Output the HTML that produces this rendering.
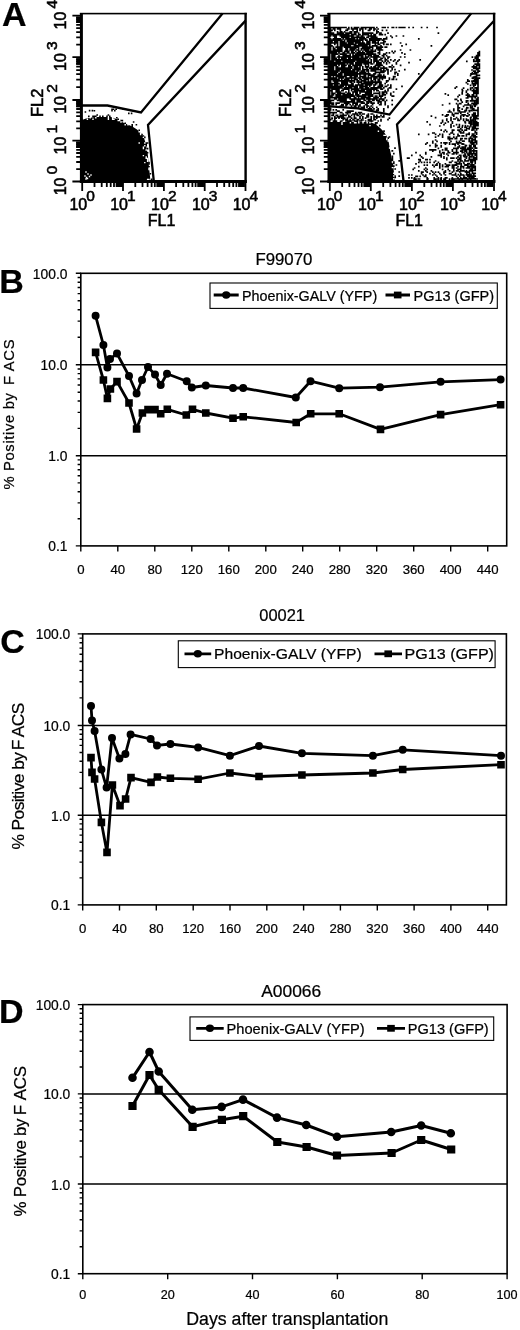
<!DOCTYPE html>
<html lang="en"><head><meta charset="utf-8"><title>Figure: FACS analysis and long-term marking</title>
<style>html,body{margin:0;padding:0;background:#fff}body{width:520px;height:1330px;overflow:hidden}svg{display:block}text{font-family:'Liberation Sans', Arial, Helvetica, sans-serif;fill:#000;stroke:#000;stroke-width:.22px}.b{stroke-width:.55px}</style></head><body>
<svg width="520" height="1330" viewBox="0 0 520 1330">
<rect width="520" height="1330" fill="#fff"/>
<text x="1.9" y="25.8" font-size="34" font-weight="bold">A</text>
<clipPath id="cA1"><rect x="82" y="14" width="162.5" height="167"/></clipPath><g clip-path="url(#cA1)"><path d="M81 120.5L86 118.5L95 117L111 117L118 119.5L123 122.5L132.3 126.5L137 129.5L141.5 133.8L144 138L145.6 143L147.7 153.8L149.2 169L150.6 182L81 182Z" fill="#000"/><path d="M81.8 119.2h0M88.8 116.4h0M93 116.4h0M94.4 110.8h0M94.4 116.4h0M95.8 116.4h0M97.2 115h0M100 116.4h0M102.8 116.4h0M107 116.4h0M108.4 115h0M109.8 116.4h0M116.8 117.8h0M118.2 119.2h0M121 120.6h0M122.4 120.6h0M125.2 123.4h0M132.2 124.8h0M132.2 126.2h0M133.6 122h0M136.4 124.8h0M139.2 130.4h0M142 134.6h0M143.4 136h0M144.8 137.4h0M146.2 143h0M146.2 144.4h0M146.2 145.8h0M146.2 182.2h0M147.6 143h0M147.6 148.6h0M147.6 152.8h0M149 162.6h0M149 164h0M149 166.8h0M150.4 173.8h0M150.4 182.2h0M151.8 179.4h0M151.8 180.8h0M112 110.6h0M85.4 112h0M114.8 110.6h0M131.6 113.4h0M112 109.2h0M113.4 109.2h0M92.4 110.6h0M89.6 110.6h0M116.2 109.2h0M123.2 109.2h0M128.8 113.4h0M116.2 109.2h0" stroke="#000" stroke-width="1.6" stroke-linecap="square" fill="none"/><path d="M87.4 119.2h0M90.2 117.8h0M93 119.2h0M95.8 117.8h0M108.4 117.8h0M108.4 119.2h0M112.6 117.8h0M112.6 119.2h0M114 119.2h0M118.2 120.6h0M119.6 120.6h0M121 122h0M125.2 124.8h0M128 124.8h0M139.2 131.8h0M139.2 143h0M140.6 133.2h0M140.6 134.6h0M143.4 137.4h0M143.4 147.2h0M143.4 148.6h0M143.4 155.6h0M144.8 143h0M144.8 145.8h0M144.8 162.6h0M146.2 150h0M146.2 157h0M146.2 158.4h0M147.6 158.4h0M147.6 159.8h0M147.6 161.2h0M147.6 179.4h0M149 168.2h0M149 169.6h0M149 179.4h0M149 180.8h0M150.4 180.8h0M85 176h0M86.5 177.5h0M88 174h0M89.5 176.5h0M86 172h0M91 175h0M87.5 178.5h0M86 179h0" stroke="#fff" stroke-width="1.4" stroke-linecap="square" fill="none"/></g><path d="M82 105.5H107.5L141 112.5L222.5 13.4M153.8 181L148 125L245.6 20.6" stroke="#000" stroke-width="2.3" fill="none" stroke-linejoin="miter"/>
<g transform="translate(0,0)"><rect x="79.9" y="13" width="3" height="170" fill="#000"/><rect x="79.9" y="180" width="166.9" height="3" fill="#000"/><rect x="79.9" y="12.8" width="166.9" height="1.6" fill="#000"/><rect x="244.4" y="12.8" width="2.4" height="170" fill="#000"/><path d="M72.4 15.7H81M72.4 57.2H81M72.4 100H81M72.4 140.7H81M72.4 181.5H81M76.2 44.7H81M76.2 37.4H81M76.2 32.2H81M76.2 28.2H81M76.2 24.9H81M76.2 22.1H81M76.2 19.7H81M76.2 17.6H81M76.2 87.1H81M76.2 79.6H81M76.2 74.2H81M76.2 70.1H81M76.2 66.7H81M76.2 63.8H81M76.2 61.3H81M76.2 59.2H81M76.2 128.4H81M76.2 121.3H81M76.2 116.2H81M76.2 112.3H81M76.2 109H81M76.2 106.3H81M76.2 103.9H81M76.2 101.9H81M76.2 169.2H81M76.2 162H81M76.2 156.9H81M76.2 153H81M76.2 149.8H81M76.2 147H81M76.2 144.7H81M76.2 142.6H81M82.2 182V191M123 182V191M163.9 182V191M204.7 182V191M245.5 182V191M94.5 182V187M101.7 182V187M106.8 182V187M110.7 182V187M114 182V187M116.7 182V187M119.1 182V187M121.2 182V187M135.3 182V187M142.5 182V187M147.6 182V187M151.6 182V187M154.8 182V187M157.5 182V187M159.9 182V187M162 182V187M176.1 182V187M183.3 182V187M188.4 182V187M192.4 182V187M195.6 182V187M198.4 182V187M200.7 182V187M202.8 182V187M217 182V187M224.2 182V187M229.3 182V187M233.2 182V187M236.4 182V187M239.2 182V187M241.5 182V187M243.6 182V187" stroke="#000" stroke-width="1.8" fill="none"/><rect x="76.2" y="16.7" width="4.8" height="6.3" fill="#000"/><rect x="115.8" y="182" width="6.3" height="5" fill="#000"/><rect x="76.2" y="58.3" width="4.8" height="6.5" fill="#000"/><rect x="156.6" y="182" width="6.3" height="5" fill="#000"/><rect x="76.2" y="101" width="4.8" height="6.2" fill="#000"/><rect x="197.5" y="182" width="6.3" height="5" fill="#000"/><rect x="76.2" y="141.7" width="4.8" height="6.3" fill="#000"/><rect x="238.3" y="182" width="6.3" height="5" fill="#000"/><text x="69.4" y="210" font-size="16" class="b">10<tspan dx="-1" dy="-9.4" font-size="15.5">0</tspan></text><text x="110.2" y="210" font-size="16" class="b">10<tspan dx="-1" dy="-9.4" font-size="15.5">1</tspan></text><text x="151.1" y="210" font-size="16" class="b">10<tspan dx="-1" dy="-9.4" font-size="15.5">2</tspan></text><text x="191.9" y="210" font-size="16" class="b">10<tspan dx="-1" dy="-9.4" font-size="15.5">3</tspan></text><text x="232.7" y="210" font-size="16" class="b">10<tspan dx="-1" dy="-9.4" font-size="15.5">4</tspan></text><text transform="translate(66.2,29.5) rotate(-90)" font-size="16" class="b">10<tspan dx="3.2" dy="-9" font-size="15.5">4</tspan></text><text transform="translate(66.2,71) rotate(-90)" font-size="16" class="b">10<tspan dx="3.2" dy="-9" font-size="15.5">3</tspan></text><text transform="translate(66.2,113.8) rotate(-90)" font-size="16" class="b">10<tspan dx="3.2" dy="-9" font-size="15.5">2</tspan></text><text transform="translate(66.2,154.5) rotate(-90)" font-size="16" class="b">10<tspan dx="3.2" dy="-9" font-size="15.5">1</tspan></text><text transform="translate(66.2,195.3) rotate(-90)" font-size="16" class="b">10<tspan dx="3.2" dy="-9" font-size="15.5">0</tspan></text><text transform="translate(43,117) rotate(-90)" font-size="16.5" class="b">FL2</text><text x="147.8" y="226.2" font-size="16" class="b">FL1</text></g>
<clipPath id="cA2"><rect x="329.6" y="14" width="163.5" height="167"/></clipPath><g clip-path="url(#cA2)"><path d="M328.6 122L369.5 122L375.2 124L379.9 127.8L384 132L386.6 136L388.7 142L389.9 149L393.2 165.4L395 182L328.6 182Z" fill="#000"/><path d="M328 120h0M332.2 118.6h0M333.6 121.4h0M335 121.4h0M336.4 121.4h0M340.6 121.4h0M344.8 118.6h0M347.6 121.4h0M349 121.4h0M350.4 121.4h0M354.6 120h0M356 121.4h0M357.4 121.4h0M363 120h0M371.4 121.4h0M375.6 122.8h0M375.6 124.2h0M377 122.8h0M379.8 125.6h0M384 131.2h0M388.2 138.2h0M392.4 150.8h0M392.4 156.4h0M392.4 157.8h0M392.4 159.2h0M392.4 160.6h0M393.8 153.6h0M393.8 162h0M393.8 163.4h0M393.8 166.2h0M395.2 169h0M395.2 177.4h0M396.6 181.6h0M398 181.6h0M330.6 108.4h0M330.6 109.8h0M330.6 112.6h0M330.6 119.6h0M332 112.6h0M332 115.4h0M332 118.2h0M333.4 109.8h0M333.4 112.6h0M333.4 114h0M333.4 115.4h0M333.4 121h0M334.8 112.6h0M334.8 116.8h0M334.8 118.2h0M334.8 119.6h0M334.8 121h0M336.2 109.8h0M336.2 112.6h0M336.2 115.4h0M336.2 118.2h0M336.2 121h0M337.6 111.2h0M337.6 115.4h0M337.6 116.8h0M339 111.2h0M339 116.8h0M339 118.2h0M340.4 112.6h0M340.4 115.4h0M340.4 116.8h0M341.8 112.6h0M341.8 115.4h0M341.8 116.8h0M341.8 118.2h0M341.8 121h0M343.2 109.8h0M343.2 114h0M343.2 115.4h0M343.2 116.8h0M343.2 118.2h0M343.2 119.6h0M344.6 115.4h0M344.6 118.2h0M346 112.6h0M346 115.4h0M346 119.6h0M346 121h0M347.4 111.2h0M347.4 112.6h0M347.4 114h0M347.4 118.2h0M347.4 119.6h0M348.8 111.2h0M348.8 112.6h0M348.8 115.4h0M348.8 116.8h0M348.8 121h0M350.2 111.2h0M350.2 112.6h0M350.2 116.8h0M350.2 119.6h0M350.2 121h0M351.6 111.2h0M351.6 115.4h0M351.6 118.2h0M351.6 121h0M353 111.2h0M353 114h0M353 119.6h0M354.4 114h0M354.4 115.4h0M354.4 116.8h0M354.4 118.2h0M354.4 121h0M355.8 112.6h0M355.8 114h0M355.8 118.2h0M357.2 114h0M357.2 115.4h0M357.2 119.6h0M358.6 112.6h0M358.6 115.4h0M358.6 119.6h0M360 112.6h0M360 114h0M360 116.8h0M360 118.2h0M360 121h0M361.4 112.6h0M361.4 115.4h0M361.4 119.6h0M361.4 121h0M362.8 114h0M362.8 116.8h0M362.8 118.2h0M364.2 114h0M365.6 118.2h0M365.6 121h0M367 115.4h0M367 116.8h0M368.4 114h0M368.4 115.4h0M368.4 116.8h0M368.4 119.6h0M368.4 121h0M369.8 119.6h0M369.8 121h0M371.2 114h0M371.2 116.8h0M371.2 118.2h0M371.2 119.6h0M372.6 114h0M372.6 121h0M374 115.4h0M374 116.8h0M374 118.2h0M374 119.6h0M375.4 116.8h0M375.4 119.6h0M376.8 115.4h0M376.8 116.8h0M376.8 118.2h0M378.2 116.8h0M378.2 121h0M379.6 116.8h0M381 115.4h0M381 119.6h0M381 121h0M382.4 116.8h0M383.8 115.4h0M383.8 116.8h0M388 119.6h0M389.4 118.2h0M388 155.2h0M388 174.8h0M389.4 137h0M389.4 166.4h0M390.8 160.8h0M390.8 176.2h0M392.2 151h0M392.2 166.4h0M395 148.2h0M395 176.2h0M396.4 165h0M399.2 160.8h0M399.2 172h0M399.2 176.2h0M330.6 29h0M330.6 30.4h0M330.6 31.8h0M330.6 33.2h0M330.6 34.6h0M330.6 36h0M330.6 38.8h0M330.6 40.2h0M330.6 41.6h0M330.6 43h0M330.6 44.4h0M330.6 45.8h0M330.6 47.2h0M330.6 48.6h0M330.6 50h0M330.6 51.4h0M330.6 52.8h0M330.6 61.2h0M330.6 62.6h0M330.6 64h0M330.6 65.4h0M330.6 66.8h0M330.6 68.2h0M330.6 69.6h0M330.6 71h0M330.6 72.4h0M330.6 73.8h0M330.6 75.2h0M330.6 76.6h0M330.6 78h0M330.6 79.4h0M330.6 80.8h0M330.6 82.2h0M330.6 83.6h0M330.6 85h0M330.6 86.4h0M330.6 87.8h0M330.6 90.6h0M330.6 96.2h0M330.6 97.6h0M330.6 100.4h0M330.6 101.8h0M330.6 103.2h0M332 30.4h0M332 33.2h0M332 34.6h0M332 40.2h0M332 41.6h0M332 43h0M332 45.8h0M332 51.4h0M332 52.8h0M332 54.2h0M332 55.6h0M332 57h0M332 58.4h0M332 59.8h0M332 61.2h0M332 62.6h0M332 64h0M332 65.4h0M332 66.8h0M332 68.2h0M332 69.6h0M332 71h0M332 72.4h0M332 73.8h0M332 75.2h0M332 78h0M332 79.4h0M332 83.6h0M332 85h0M332 86.4h0M332 87.8h0M332 89.2h0M332 90.6h0M332 92h0M332 93.4h0M332 94.8h0M332 96.2h0M332 97.6h0M332 100.4h0M332 103.2h0M332 104.6h0M333.4 29h0M333.4 33.2h0M333.4 34.6h0M333.4 36h0M333.4 38.8h0M333.4 40.2h0M333.4 43h0M333.4 47.2h0M333.4 48.6h0M333.4 50h0M333.4 51.4h0M333.4 52.8h0M333.4 54.2h0M333.4 55.6h0M333.4 57h0M333.4 58.4h0M333.4 59.8h0M333.4 61.2h0M333.4 62.6h0M333.4 64h0M333.4 65.4h0M333.4 66.8h0M333.4 68.2h0M333.4 69.6h0M333.4 71h0M333.4 72.4h0M333.4 73.8h0M333.4 75.2h0M333.4 76.6h0M333.4 78h0M333.4 79.4h0M333.4 80.8h0M333.4 83.6h0M333.4 86.4h0M333.4 87.8h0M333.4 89.2h0M333.4 93.4h0M333.4 94.8h0M333.4 97.6h0M333.4 100.4h0M333.4 103.2h0M333.4 104.6h0M334.8 29h0M334.8 30.4h0M334.8 34.6h0M334.8 36h0M334.8 37.4h0M334.8 38.8h0M334.8 40.2h0M334.8 41.6h0M334.8 43h0M334.8 44.4h0M334.8 48.6h0M334.8 50h0M334.8 51.4h0M334.8 52.8h0M334.8 54.2h0M334.8 55.6h0M334.8 57h0M334.8 58.4h0M334.8 59.8h0M334.8 62.6h0M334.8 64h0M334.8 65.4h0M334.8 71h0M334.8 72.4h0M334.8 73.8h0M334.8 75.2h0M334.8 78h0M334.8 79.4h0M334.8 80.8h0M334.8 82.2h0M334.8 83.6h0M334.8 85h0M334.8 86.4h0M334.8 87.8h0M334.8 89.2h0M334.8 93.4h0M334.8 97.6h0M334.8 99h0M336.2 34.6h0M336.2 36h0M336.2 37.4h0M336.2 38.8h0M336.2 40.2h0M336.2 41.6h0M336.2 43h0M336.2 47.2h0M336.2 50h0M336.2 51.4h0M336.2 52.8h0M336.2 54.2h0M336.2 58.4h0M336.2 59.8h0M336.2 61.2h0M336.2 62.6h0M336.2 64h0M336.2 65.4h0M336.2 66.8h0M336.2 68.2h0M336.2 69.6h0M336.2 71h0M336.2 72.4h0M336.2 73.8h0M336.2 75.2h0M336.2 76.6h0M336.2 78h0M336.2 79.4h0M336.2 80.8h0M336.2 82.2h0M336.2 83.6h0M336.2 85h0M336.2 86.4h0M336.2 87.8h0M336.2 89.2h0M336.2 90.6h0M336.2 92h0M336.2 94.8h0M336.2 96.2h0M336.2 97.6h0M336.2 99h0M336.2 103.2h0M336.2 104.6h0M337.6 29h0M337.6 31.8h0M337.6 33.2h0M337.6 34.6h0M337.6 38.8h0M337.6 40.2h0M337.6 41.6h0M337.6 43h0M337.6 44.4h0M337.6 45.8h0M337.6 47.2h0M337.6 48.6h0M337.6 50h0M337.6 51.4h0M337.6 54.2h0M337.6 57h0M337.6 59.8h0M337.6 61.2h0M337.6 62.6h0M337.6 64h0M337.6 66.8h0M337.6 68.2h0M337.6 69.6h0M337.6 71h0M337.6 72.4h0M337.6 75.2h0M337.6 76.6h0M337.6 79.4h0M337.6 80.8h0M337.6 82.2h0M337.6 83.6h0M337.6 85h0M337.6 86.4h0M337.6 87.8h0M337.6 89.2h0M337.6 90.6h0M337.6 92h0M337.6 93.4h0M337.6 94.8h0M337.6 96.2h0M337.6 97.6h0M337.6 100.4h0M337.6 103.2h0M339 29h0M339 33.2h0M339 34.6h0M339 38.8h0M339 40.2h0M339 47.2h0M339 48.6h0M339 50h0M339 51.4h0M339 52.8h0M339 55.6h0M339 57h0M339 58.4h0M339 59.8h0M339 61.2h0M339 62.6h0M339 64h0M339 65.4h0M339 68.2h0M339 69.6h0M339 71h0M339 73.8h0M339 75.2h0M339 76.6h0M339 78h0M339 79.4h0M339 80.8h0M339 83.6h0M339 86.4h0M339 87.8h0M339 89.2h0M339 90.6h0M339 92h0M339 93.4h0M339 94.8h0M339 96.2h0M339 97.6h0M339 99h0M339 100.4h0M339 103.2h0M340.4 29h0M340.4 30.4h0M340.4 31.8h0M340.4 33.2h0M340.4 34.6h0M340.4 36h0M340.4 38.8h0M340.4 40.2h0M340.4 41.6h0M340.4 43h0M340.4 44.4h0M340.4 45.8h0M340.4 47.2h0M340.4 48.6h0M340.4 50h0M340.4 51.4h0M340.4 54.2h0M340.4 57h0M340.4 59.8h0M340.4 61.2h0M340.4 62.6h0M340.4 64h0M340.4 68.2h0M340.4 69.6h0M340.4 72.4h0M340.4 73.8h0M340.4 75.2h0M340.4 76.6h0M340.4 78h0M340.4 80.8h0M340.4 85h0M340.4 86.4h0M340.4 87.8h0M340.4 92h0M340.4 93.4h0M340.4 94.8h0M340.4 96.2h0M340.4 97.6h0M340.4 99h0M340.4 100.4h0M340.4 101.8h0M340.4 106h0M341.8 31.8h0M341.8 33.2h0M341.8 34.6h0M341.8 36h0M341.8 37.4h0M341.8 40.2h0M341.8 41.6h0M341.8 43h0M341.8 44.4h0M341.8 45.8h0M341.8 47.2h0M341.8 48.6h0M341.8 50h0M341.8 51.4h0M341.8 54.2h0M341.8 57h0M341.8 58.4h0M341.8 59.8h0M341.8 62.6h0M341.8 64h0M341.8 65.4h0M341.8 66.8h0M341.8 68.2h0M341.8 69.6h0M341.8 71h0M341.8 72.4h0M341.8 73.8h0M341.8 75.2h0M341.8 76.6h0M341.8 78h0M341.8 79.4h0M341.8 80.8h0M341.8 82.2h0M341.8 83.6h0M341.8 85h0M341.8 86.4h0M341.8 87.8h0M341.8 90.6h0M341.8 93.4h0M341.8 96.2h0M341.8 97.6h0M341.8 99h0M341.8 100.4h0M341.8 101.8h0M341.8 104.6h0M341.8 106h0M343.2 33.2h0M343.2 34.6h0M343.2 36h0M343.2 37.4h0M343.2 38.8h0M343.2 41.6h0M343.2 43h0M343.2 44.4h0M343.2 45.8h0M343.2 52.8h0M343.2 54.2h0M343.2 55.6h0M343.2 57h0M343.2 58.4h0M343.2 59.8h0M343.2 61.2h0M343.2 62.6h0M343.2 64h0M343.2 65.4h0M343.2 66.8h0M343.2 68.2h0M343.2 69.6h0M343.2 71h0M343.2 72.4h0M343.2 76.6h0M343.2 78h0M343.2 80.8h0M343.2 82.2h0M343.2 83.6h0M343.2 85h0M343.2 86.4h0M343.2 89.2h0M343.2 90.6h0M343.2 93.4h0M343.2 94.8h0M343.2 96.2h0M343.2 97.6h0M343.2 99h0M343.2 100.4h0M343.2 101.8h0M343.2 104.6h0M343.2 106h0M344.6 31.8h0M344.6 34.6h0M344.6 36h0M344.6 37.4h0M344.6 40.2h0M344.6 41.6h0M344.6 43h0M344.6 44.4h0M344.6 45.8h0M344.6 47.2h0M344.6 51.4h0M344.6 52.8h0M344.6 54.2h0M344.6 55.6h0M344.6 57h0M344.6 58.4h0M344.6 59.8h0M344.6 61.2h0M344.6 62.6h0M344.6 64h0M344.6 65.4h0M344.6 66.8h0M344.6 68.2h0M344.6 69.6h0M344.6 71h0M344.6 72.4h0M344.6 73.8h0M344.6 75.2h0M344.6 76.6h0M344.6 79.4h0M344.6 80.8h0M344.6 82.2h0M344.6 83.6h0M344.6 85h0M344.6 87.8h0M344.6 89.2h0M344.6 93.4h0M344.6 94.8h0M344.6 96.2h0M344.6 97.6h0M344.6 99h0M344.6 100.4h0M344.6 101.8h0M344.6 103.2h0M346 30.4h0M346 33.2h0M346 34.6h0M346 36h0M346 37.4h0M346 38.8h0M346 43h0M346 44.4h0M346 45.8h0M346 47.2h0M346 48.6h0M346 50h0M346 51.4h0M346 54.2h0M346 55.6h0M346 57h0M346 58.4h0M346 59.8h0M346 61.2h0M346 62.6h0M346 65.4h0M346 68.2h0M346 69.6h0M346 71h0M346 72.4h0M346 73.8h0M346 75.2h0M346 76.6h0M346 78h0M346 79.4h0M346 80.8h0M346 82.2h0M346 83.6h0M346 85h0M346 86.4h0M346 87.8h0M346 89.2h0M346 92h0M346 94.8h0M346 96.2h0M346 97.6h0M346 99h0M346 100.4h0M346 101.8h0M346 103.2h0M346 104.6h0M346 106h0M347.4 29h0M347.4 30.4h0M347.4 33.2h0M347.4 34.6h0M347.4 36h0M347.4 37.4h0M347.4 38.8h0M347.4 40.2h0M347.4 41.6h0M347.4 44.4h0M347.4 45.8h0M347.4 47.2h0M347.4 48.6h0M347.4 50h0M347.4 51.4h0M347.4 52.8h0M347.4 55.6h0M347.4 57h0M347.4 59.8h0M347.4 61.2h0M347.4 62.6h0M347.4 64h0M347.4 68.2h0M347.4 69.6h0M347.4 71h0M347.4 72.4h0M347.4 73.8h0M347.4 75.2h0M347.4 78h0M347.4 79.4h0M347.4 80.8h0M347.4 82.2h0M347.4 83.6h0M347.4 85h0M347.4 87.8h0M347.4 89.2h0M347.4 93.4h0M347.4 94.8h0M347.4 96.2h0M347.4 97.6h0M347.4 101.8h0M347.4 103.2h0M347.4 104.6h0M348.8 29h0M348.8 33.2h0M348.8 34.6h0M348.8 36h0M348.8 37.4h0M348.8 38.8h0M348.8 40.2h0M348.8 41.6h0M348.8 43h0M348.8 44.4h0M348.8 45.8h0M348.8 47.2h0M348.8 51.4h0M348.8 52.8h0M348.8 55.6h0M348.8 57h0M348.8 58.4h0M348.8 59.8h0M348.8 61.2h0M348.8 62.6h0M348.8 65.4h0M348.8 66.8h0M348.8 68.2h0M348.8 69.6h0M348.8 71h0M348.8 72.4h0M348.8 73.8h0M348.8 75.2h0M348.8 78h0M348.8 79.4h0M348.8 80.8h0M348.8 85h0M348.8 86.4h0M348.8 87.8h0M348.8 89.2h0M348.8 90.6h0M348.8 92h0M348.8 93.4h0M348.8 94.8h0M348.8 96.2h0M348.8 97.6h0M348.8 101.8h0M348.8 103.2h0M350.2 31.8h0M350.2 33.2h0M350.2 36h0M350.2 38.8h0M350.2 40.2h0M350.2 41.6h0M350.2 43h0M350.2 44.4h0M350.2 45.8h0M350.2 47.2h0M350.2 48.6h0M350.2 50h0M350.2 54.2h0M350.2 55.6h0M350.2 57h0M350.2 58.4h0M350.2 59.8h0M350.2 61.2h0M350.2 62.6h0M350.2 64h0M350.2 65.4h0M350.2 66.8h0M350.2 68.2h0M350.2 69.6h0M350.2 71h0M350.2 72.4h0M350.2 73.8h0M350.2 75.2h0M350.2 76.6h0M350.2 78h0M350.2 80.8h0M350.2 82.2h0M350.2 85h0M350.2 86.4h0M350.2 87.8h0M350.2 93.4h0M350.2 94.8h0M350.2 96.2h0M350.2 97.6h0M350.2 99h0M350.2 101.8h0M350.2 104.6h0M351.6 29h0M351.6 31.8h0M351.6 33.2h0M351.6 34.6h0M351.6 36h0M351.6 37.4h0M351.6 38.8h0M351.6 40.2h0M351.6 41.6h0M351.6 43h0M351.6 44.4h0M351.6 47.2h0M351.6 48.6h0M351.6 50h0M351.6 51.4h0M351.6 52.8h0M351.6 57h0M351.6 59.8h0M351.6 61.2h0M351.6 62.6h0M351.6 64h0M351.6 66.8h0M351.6 68.2h0M351.6 71h0M351.6 72.4h0M351.6 73.8h0M351.6 75.2h0M351.6 76.6h0M351.6 78h0M351.6 79.4h0M351.6 80.8h0M351.6 82.2h0M351.6 83.6h0M351.6 85h0M351.6 86.4h0M351.6 87.8h0M351.6 89.2h0M351.6 90.6h0M351.6 94.8h0M351.6 96.2h0M351.6 99h0M351.6 100.4h0M351.6 101.8h0M351.6 106h0M351.6 107.4h0M353 29h0M353 30.4h0M353 34.6h0M353 36h0M353 37.4h0M353 38.8h0M353 40.2h0M353 41.6h0M353 43h0M353 44.4h0M353 47.2h0M353 48.6h0M353 50h0M353 51.4h0M353 52.8h0M353 54.2h0M353 55.6h0M353 57h0M353 58.4h0M353 59.8h0M353 61.2h0M353 62.6h0M353 64h0M353 65.4h0M353 69.6h0M353 71h0M353 72.4h0M353 73.8h0M353 75.2h0M353 78h0M353 80.8h0M353 83.6h0M353 85h0M353 86.4h0M353 89.2h0M353 92h0M353 93.4h0M353 94.8h0M353 96.2h0M353 99h0M353 100.4h0M353 101.8h0M353 103.2h0M353 104.6h0M354.4 29h0M354.4 31.8h0M354.4 33.2h0M354.4 34.6h0M354.4 37.4h0M354.4 38.8h0M354.4 40.2h0M354.4 41.6h0M354.4 44.4h0M354.4 45.8h0M354.4 47.2h0M354.4 48.6h0M354.4 50h0M354.4 52.8h0M354.4 55.6h0M354.4 57h0M354.4 58.4h0M354.4 59.8h0M354.4 61.2h0M354.4 65.4h0M354.4 66.8h0M354.4 68.2h0M354.4 69.6h0M354.4 71h0M354.4 72.4h0M354.4 73.8h0M354.4 75.2h0M354.4 76.6h0M354.4 78h0M354.4 79.4h0M354.4 80.8h0M354.4 82.2h0M354.4 86.4h0M354.4 87.8h0M354.4 89.2h0M354.4 90.6h0M354.4 92h0M354.4 96.2h0M354.4 97.6h0M354.4 99h0M354.4 100.4h0M354.4 101.8h0M354.4 103.2h0M354.4 106h0M354.4 107.4h0M355.8 29h0M355.8 31.8h0M355.8 33.2h0M355.8 34.6h0M355.8 37.4h0M355.8 40.2h0M355.8 41.6h0M355.8 43h0M355.8 44.4h0M355.8 45.8h0M355.8 47.2h0M355.8 48.6h0M355.8 51.4h0M355.8 54.2h0M355.8 55.6h0M355.8 57h0M355.8 58.4h0M355.8 59.8h0M355.8 62.6h0M355.8 64h0M355.8 65.4h0M355.8 66.8h0M355.8 68.2h0M355.8 69.6h0M355.8 72.4h0M355.8 73.8h0M355.8 75.2h0M355.8 76.6h0M355.8 78h0M355.8 79.4h0M355.8 85h0M355.8 86.4h0M355.8 87.8h0M355.8 89.2h0M355.8 90.6h0M355.8 92h0M355.8 93.4h0M355.8 94.8h0M355.8 97.6h0M355.8 99h0M355.8 103.2h0M355.8 104.6h0M355.8 106h0M355.8 107.4h0M357.2 29h0M357.2 30.4h0M357.2 31.8h0M357.2 36h0M357.2 37.4h0M357.2 38.8h0M357.2 40.2h0M357.2 41.6h0M357.2 43h0M357.2 45.8h0M357.2 47.2h0M357.2 50h0M357.2 52.8h0M357.2 54.2h0M357.2 55.6h0M357.2 57h0M357.2 58.4h0M357.2 59.8h0M357.2 61.2h0M357.2 62.6h0M357.2 64h0M357.2 65.4h0M357.2 66.8h0M357.2 68.2h0M357.2 69.6h0M357.2 71h0M357.2 72.4h0M357.2 73.8h0M357.2 75.2h0M357.2 76.6h0M357.2 79.4h0M357.2 80.8h0M357.2 82.2h0M357.2 85h0M357.2 86.4h0M357.2 87.8h0M357.2 89.2h0M357.2 90.6h0M357.2 92h0M357.2 93.4h0M357.2 94.8h0M357.2 96.2h0M357.2 99h0M357.2 100.4h0M357.2 101.8h0M357.2 103.2h0M357.2 104.6h0M358.6 33.2h0M358.6 34.6h0M358.6 36h0M358.6 37.4h0M358.6 40.2h0M358.6 41.6h0M358.6 43h0M358.6 44.4h0M358.6 45.8h0M358.6 47.2h0M358.6 48.6h0M358.6 50h0M358.6 51.4h0M358.6 52.8h0M358.6 54.2h0M358.6 55.6h0M358.6 57h0M358.6 58.4h0M358.6 59.8h0M358.6 61.2h0M358.6 62.6h0M358.6 64h0M358.6 65.4h0M358.6 68.2h0M358.6 69.6h0M358.6 71h0M358.6 73.8h0M358.6 78h0M358.6 80.8h0M358.6 82.2h0M358.6 83.6h0M358.6 85h0M358.6 89.2h0M358.6 90.6h0M358.6 94.8h0M358.6 96.2h0M358.6 97.6h0M358.6 99h0M358.6 100.4h0M358.6 101.8h0M358.6 106h0M358.6 107.4h0M360 29h0M360 30.4h0M360 34.6h0M360 37.4h0M360 38.8h0M360 40.2h0M360 41.6h0M360 43h0M360 44.4h0M360 45.8h0M360 51.4h0M360 52.8h0M360 54.2h0M360 55.6h0M360 58.4h0M360 59.8h0M360 61.2h0M360 62.6h0M360 64h0M360 65.4h0M360 66.8h0M360 68.2h0M360 69.6h0M360 72.4h0M360 73.8h0M360 75.2h0M360 76.6h0M360 78h0M360 79.4h0M360 82.2h0M360 85h0M360 86.4h0M360 87.8h0M360 90.6h0M360 92h0M360 93.4h0M360 96.2h0M360 99h0M360 100.4h0M360 101.8h0M360 104.6h0M360 106h0M361.4 29h0M361.4 36h0M361.4 37.4h0M361.4 38.8h0M361.4 40.2h0M361.4 43h0M361.4 44.4h0M361.4 45.8h0M361.4 48.6h0M361.4 50h0M361.4 52.8h0M361.4 54.2h0M361.4 55.6h0M361.4 57h0M361.4 58.4h0M361.4 59.8h0M361.4 61.2h0M361.4 62.6h0M361.4 64h0M361.4 65.4h0M361.4 71h0M361.4 72.4h0M361.4 73.8h0M361.4 76.6h0M361.4 79.4h0M361.4 80.8h0M361.4 82.2h0M361.4 83.6h0M361.4 85h0M361.4 86.4h0M361.4 87.8h0M361.4 89.2h0M361.4 90.6h0M361.4 92h0M361.4 96.2h0M361.4 97.6h0M361.4 99h0M361.4 101.8h0M361.4 103.2h0M361.4 107.4h0M361.4 108.8h0M362.8 29h0M362.8 30.4h0M362.8 31.8h0M362.8 33.2h0M362.8 34.6h0M362.8 36h0M362.8 37.4h0M362.8 38.8h0M362.8 40.2h0M362.8 41.6h0M362.8 43h0M362.8 44.4h0M362.8 45.8h0M362.8 47.2h0M362.8 48.6h0M362.8 51.4h0M362.8 52.8h0M362.8 54.2h0M362.8 55.6h0M362.8 57h0M362.8 58.4h0M362.8 59.8h0M362.8 61.2h0M362.8 62.6h0M362.8 66.8h0M362.8 68.2h0M362.8 69.6h0M362.8 71h0M362.8 72.4h0M362.8 73.8h0M362.8 76.6h0M362.8 78h0M362.8 80.8h0M362.8 83.6h0M362.8 85h0M362.8 86.4h0M362.8 87.8h0M362.8 89.2h0M362.8 90.6h0M362.8 92h0M362.8 94.8h0M362.8 96.2h0M362.8 97.6h0M362.8 99h0M362.8 101.8h0M362.8 103.2h0M362.8 107.4h0M362.8 108.8h0M364.2 33.2h0M364.2 34.6h0M364.2 37.4h0M364.2 38.8h0M364.2 43h0M364.2 44.4h0M364.2 45.8h0M364.2 47.2h0M364.2 48.6h0M364.2 50h0M364.2 52.8h0M364.2 54.2h0M364.2 58.4h0M364.2 59.8h0M364.2 61.2h0M364.2 62.6h0M364.2 64h0M364.2 69.6h0M364.2 71h0M364.2 72.4h0M364.2 73.8h0M364.2 75.2h0M364.2 76.6h0M364.2 78h0M364.2 79.4h0M364.2 80.8h0M364.2 82.2h0M364.2 83.6h0M364.2 86.4h0M364.2 89.2h0M364.2 90.6h0M364.2 92h0M364.2 94.8h0M364.2 96.2h0M364.2 97.6h0M364.2 99h0M364.2 100.4h0M364.2 103.2h0M364.2 106h0M364.2 107.4h0M364.2 108.8h0M365.6 29h0M365.6 33.2h0M365.6 34.6h0M365.6 38.8h0M365.6 40.2h0M365.6 44.4h0M365.6 45.8h0M365.6 47.2h0M365.6 48.6h0M365.6 50h0M365.6 51.4h0M365.6 54.2h0M365.6 55.6h0M365.6 57h0M365.6 58.4h0M365.6 59.8h0M365.6 61.2h0M365.6 62.6h0M365.6 64h0M365.6 65.4h0M365.6 66.8h0M365.6 69.6h0M365.6 72.4h0M365.6 73.8h0M365.6 75.2h0M365.6 76.6h0M365.6 78h0M365.6 79.4h0M365.6 80.8h0M365.6 82.2h0M365.6 83.6h0M365.6 85h0M365.6 86.4h0M365.6 87.8h0M365.6 89.2h0M365.6 92h0M365.6 93.4h0M365.6 94.8h0M365.6 96.2h0M365.6 97.6h0M365.6 100.4h0M365.6 104.6h0M367 33.2h0M367 34.6h0M367 37.4h0M367 40.2h0M367 41.6h0M367 43h0M367 44.4h0M367 45.8h0M367 47.2h0M367 48.6h0M367 50h0M367 51.4h0M367 52.8h0M367 54.2h0M367 57h0M367 58.4h0M367 61.2h0M367 62.6h0M367 64h0M367 66.8h0M367 68.2h0M367 69.6h0M367 71h0M367 73.8h0M367 78h0M367 79.4h0M367 82.2h0M367 83.6h0M367 85h0M367 86.4h0M367 87.8h0M367 89.2h0M367 90.6h0M367 92h0M367 93.4h0M367 94.8h0M367 97.6h0M367 99h0M367 101.8h0M367 103.2h0M367 104.6h0M367 106h0M367 107.4h0M368.4 30.4h0M368.4 33.2h0M368.4 34.6h0M368.4 36h0M368.4 37.4h0M368.4 41.6h0M368.4 43h0M368.4 44.4h0M368.4 47.2h0M368.4 48.6h0M368.4 50h0M368.4 51.4h0M368.4 52.8h0M368.4 54.2h0M368.4 55.6h0M368.4 57h0M368.4 59.8h0M368.4 61.2h0M368.4 62.6h0M368.4 64h0M368.4 65.4h0M368.4 66.8h0M368.4 69.6h0M368.4 71h0M368.4 72.4h0M368.4 73.8h0M368.4 75.2h0M368.4 76.6h0M368.4 78h0M368.4 79.4h0M368.4 80.8h0M368.4 82.2h0M368.4 83.6h0M368.4 85h0M368.4 87.8h0M368.4 89.2h0M368.4 90.6h0M368.4 92h0M368.4 93.4h0M368.4 94.8h0M368.4 96.2h0M368.4 97.6h0M368.4 99h0M368.4 100.4h0M368.4 101.8h0M368.4 103.2h0M368.4 106h0M368.4 108.8h0M369.8 29h0M369.8 30.4h0M369.8 33.2h0M369.8 36h0M369.8 38.8h0M369.8 40.2h0M369.8 41.6h0M369.8 43h0M369.8 44.4h0M369.8 45.8h0M369.8 47.2h0M369.8 48.6h0M369.8 51.4h0M369.8 52.8h0M369.8 54.2h0M369.8 55.6h0M369.8 58.4h0M369.8 62.6h0M369.8 68.2h0M369.8 73.8h0M369.8 75.2h0M369.8 78h0M369.8 82.2h0M369.8 83.6h0M369.8 85h0M369.8 86.4h0M369.8 89.2h0M369.8 90.6h0M369.8 92h0M369.8 93.4h0M369.8 94.8h0M369.8 96.2h0M369.8 97.6h0M369.8 99h0M369.8 100.4h0M369.8 101.8h0M369.8 107.4h0M369.8 108.8h0M369.8 110.2h0M371.2 29h0M371.2 33.2h0M371.2 34.6h0M371.2 36h0M371.2 37.4h0M371.2 38.8h0M371.2 40.2h0M371.2 47.2h0M371.2 50h0M371.2 51.4h0M371.2 52.8h0M371.2 54.2h0M371.2 55.6h0M371.2 57h0M371.2 59.8h0M371.2 61.2h0M371.2 62.6h0M371.2 64h0M371.2 66.8h0M371.2 68.2h0M371.2 69.6h0M371.2 71h0M371.2 75.2h0M371.2 76.6h0M371.2 78h0M371.2 79.4h0M371.2 80.8h0M371.2 82.2h0M371.2 83.6h0M371.2 85h0M371.2 87.8h0M371.2 89.2h0M371.2 90.6h0M371.2 92h0M371.2 93.4h0M371.2 94.8h0M371.2 96.2h0M371.2 99h0M371.2 101.8h0M371.2 103.2h0M371.2 106h0M371.2 108.8h0M371.2 110.2h0M372.6 33.2h0M372.6 36h0M372.6 37.4h0M372.6 38.8h0M372.6 40.2h0M372.6 41.6h0M372.6 43h0M372.6 45.8h0M372.6 47.2h0M372.6 48.6h0M372.6 50h0M372.6 51.4h0M372.6 52.8h0M372.6 54.2h0M372.6 57h0M372.6 64h0M372.6 68.2h0M372.6 69.6h0M372.6 71h0M372.6 75.2h0M372.6 76.6h0M372.6 80.8h0M372.6 82.2h0M372.6 83.6h0M372.6 87.8h0M372.6 89.2h0M372.6 94.8h0M372.6 96.2h0M372.6 99h0M372.6 100.4h0M372.6 103.2h0M372.6 104.6h0M372.6 107.4h0M372.6 110.2h0M374 29h0M374 30.4h0M374 34.6h0M374 36h0M374 37.4h0M374 38.8h0M374 40.2h0M374 41.6h0M374 43h0M374 45.8h0M374 51.4h0M374 54.2h0M374 55.6h0M374 57h0M374 58.4h0M374 59.8h0M374 61.2h0M374 62.6h0M374 66.8h0M374 68.2h0M374 69.6h0M374 71h0M374 73.8h0M374 75.2h0M374 76.6h0M374 78h0M374 79.4h0M374 82.2h0M374 85h0M374 86.4h0M374 87.8h0M374 89.2h0M374 90.6h0M374 93.4h0M374 97.6h0M374 99h0M374 100.4h0M374 103.2h0M374 108.8h0M375.4 29h0M375.4 34.6h0M375.4 36h0M375.4 37.4h0M375.4 38.8h0M375.4 40.2h0M375.4 41.6h0M375.4 43h0M375.4 44.4h0M375.4 45.8h0M375.4 50h0M375.4 51.4h0M375.4 54.2h0M375.4 55.6h0M375.4 57h0M375.4 58.4h0M375.4 59.8h0M375.4 61.2h0M375.4 65.4h0M375.4 66.8h0M375.4 68.2h0M375.4 69.6h0M375.4 71h0M375.4 72.4h0M375.4 73.8h0M375.4 76.6h0M375.4 78h0M375.4 79.4h0M375.4 80.8h0M375.4 82.2h0M375.4 83.6h0M375.4 85h0M375.4 87.8h0M375.4 89.2h0M375.4 93.4h0M375.4 96.2h0M375.4 97.6h0M375.4 99h0M376.8 30.4h0M376.8 31.8h0M376.8 33.2h0M376.8 37.4h0M376.8 38.8h0M376.8 40.2h0M376.8 43h0M376.8 45.8h0M376.8 47.2h0M376.8 48.6h0M376.8 55.6h0M376.8 57h0M376.8 58.4h0M376.8 59.8h0M376.8 61.2h0M376.8 62.6h0M376.8 64h0M376.8 65.4h0M376.8 68.2h0M376.8 69.6h0M376.8 72.4h0M376.8 76.6h0M376.8 78h0M376.8 82.2h0M376.8 83.6h0M376.8 87.8h0M376.8 89.2h0M376.8 90.6h0M376.8 93.4h0M376.8 96.2h0M376.8 97.6h0M376.8 99h0M376.8 100.4h0M376.8 107.4h0M376.8 110.2h0M378.2 29h0M378.2 31.8h0M378.2 38.8h0M378.2 40.2h0M378.2 41.6h0M378.2 43h0M378.2 44.4h0M378.2 47.2h0M378.2 48.6h0M378.2 50h0M378.2 52.8h0M378.2 55.6h0M378.2 57h0M378.2 61.2h0M378.2 62.6h0M378.2 64h0M378.2 65.4h0M378.2 66.8h0M378.2 68.2h0M378.2 69.6h0M378.2 72.4h0M378.2 75.2h0M378.2 76.6h0M378.2 79.4h0M378.2 80.8h0M378.2 82.2h0M378.2 86.4h0M378.2 87.8h0M378.2 90.6h0M378.2 93.4h0M378.2 97.6h0M378.2 100.4h0M378.2 101.8h0M378.2 103.2h0M378.2 108.8h0M378.2 110.2h0M379.6 33.2h0M379.6 34.6h0M379.6 38.8h0M379.6 40.2h0M379.6 44.4h0M379.6 47.2h0M379.6 48.6h0M379.6 50h0M379.6 51.4h0M379.6 52.8h0M379.6 54.2h0M379.6 57h0M379.6 59.8h0M379.6 62.6h0M379.6 64h0M379.6 65.4h0M379.6 66.8h0M379.6 69.6h0M379.6 72.4h0M379.6 73.8h0M379.6 75.2h0M379.6 76.6h0M379.6 78h0M379.6 79.4h0M379.6 80.8h0M379.6 82.2h0M379.6 83.6h0M379.6 85h0M379.6 86.4h0M379.6 87.8h0M379.6 92h0M379.6 93.4h0M379.6 94.8h0M379.6 96.2h0M379.6 99h0M379.6 100.4h0M379.6 101.8h0M379.6 104.6h0M381 33.2h0M381 34.6h0M381 38.8h0M381 43h0M381 45.8h0M381 47.2h0M381 48.6h0M381 50h0M381 58.4h0M381 59.8h0M381 62.6h0M381 64h0M381 65.4h0M381 68.2h0M381 69.6h0M381 71h0M381 72.4h0M381 75.2h0M381 76.6h0M381 78h0M381 82.2h0M381 83.6h0M381 85h0M381 86.4h0M381 87.8h0M381 89.2h0M381 96.2h0M381 97.6h0M381 99h0M381 101.8h0M381 103.2h0M381 104.6h0M382.4 30.4h0M382.4 34.6h0M382.4 40.2h0M382.4 43h0M382.4 47.2h0M382.4 50h0M382.4 55.6h0M382.4 58.4h0M382.4 61.2h0M382.4 65.4h0M382.4 68.2h0M382.4 71h0M382.4 72.4h0M382.4 76.6h0M382.4 78h0M382.4 79.4h0M382.4 85h0M382.4 86.4h0M382.4 89.2h0M382.4 92h0M382.4 93.4h0M382.4 94.8h0M382.4 96.2h0M382.4 99h0M382.4 100.4h0M383.8 38.8h0M383.8 40.2h0M383.8 41.6h0M383.8 43h0M383.8 44.4h0M383.8 54.2h0M383.8 55.6h0M383.8 57h0M383.8 62.6h0M383.8 66.8h0M383.8 68.2h0M383.8 69.6h0M383.8 71h0M383.8 72.4h0M383.8 75.2h0M383.8 76.6h0M383.8 78h0M383.8 87.8h0M383.8 92h0M383.8 93.4h0M383.8 94.8h0M383.8 99h0M383.8 100.4h0M383.8 108.8h0M383.8 110.2h0M383.8 111.6h0M385.2 34.6h0M385.2 38.8h0M385.2 41.6h0M385.2 47.2h0M385.2 54.2h0M385.2 58.4h0M385.2 59.8h0M385.2 61.2h0M385.2 68.2h0M385.2 71h0M385.2 76.6h0M385.2 78h0M385.2 83.6h0M385.2 86.4h0M385.2 90.6h0M385.2 92h0M385.2 94.8h0M385.2 97.6h0M385.2 101.8h0M385.2 103.2h0M385.2 104.6h0M386.6 30.4h0M386.6 37.4h0M386.6 38.8h0M386.6 44.4h0M386.6 47.2h0M386.6 52.8h0M386.6 55.6h0M386.6 59.8h0M386.6 62.6h0M386.6 64h0M386.6 68.2h0M386.6 69.6h0M386.6 80.8h0M386.6 82.2h0M386.6 86.4h0M386.6 92h0M386.6 93.4h0M386.6 100.4h0M388 33.2h0M388 44.4h0M388 57h0M388 58.4h0M388 61.2h0M388 69.6h0M388 71h0M388 72.4h0M388 73.8h0M388 80.8h0M388 85h0M388 89.2h0M388 90.6h0M388 106h0M388 107.4h0M389.4 52.8h0M389.4 57h0M389.4 62.6h0M389.4 66.8h0M389.4 78h0M389.4 79.4h0M389.4 87.8h0M390.8 36h0M390.8 44.4h0M390.8 59.8h0M390.8 66.8h0M390.8 71h0M390.8 85h0M390.8 86.4h0M390.8 87.8h0M390.8 93.4h0M390.8 94.8h0M392.2 37.4h0M392.2 51.4h0M392.2 65.4h0M392.2 68.2h0M392.2 69.6h0M392.2 79.4h0M392.2 96.2h0M392.2 100.4h0M392.2 104.6h0M393.6 52.8h0M393.6 61.2h0M393.6 66.8h0M393.6 76.6h0M393.6 78h0M393.6 79.4h0M393.6 92h0M393.6 96.2h0M395 51.4h0M395 59.8h0M395 69.6h0M395 72.4h0M395 73.8h0M395 76.6h0M396.4 36h0M396.4 62.6h0M396.4 64h0M396.4 72.4h0M396.4 79.4h0M396.4 89.2h0M397.8 61.2h0M397.8 73.8h0M397.8 75.2h0M399.2 59.8h0M399.2 71h0M400.6 43h0M400.6 50h0M400.6 57h0M400.6 65.4h0M402 45.8h0M402 52.8h0M402 86.4h0M403.4 36h0M404.8 54.2h0M404.8 57h0M404.8 69.6h0M406.2 44.4h0M409 62.6h0M410.4 50h0M418.8 38.8h0M418.8 73.8h0M420.2 59.8h0M431.4 45.8h0M438.4 33.2h0M330.6 27.5h0M332 27.5h0M333.4 27.5h0M334.8 27.5h0M336.2 27.5h0M337.6 27.5h0M339 27.5h0M340.4 27.5h0M341.8 27.5h0M343.2 27.5h0M344.6 27.5h0M346 27.5h0M348.8 27.5h0M351.6 27.5h0M354.4 27.5h0M355.8 27.5h0M357.2 27.5h0M358.6 27.5h0M361.4 27.5h0M362.8 27.5h0M364.2 27.5h0M365.6 27.5h0M367 27.5h0M368.4 27.5h0M369.8 27.5h0M371.2 27.5h0M372.6 27.5h0M374 27.5h0M376.8 27.5h0M382.4 27.5h0M383.8 27.5h0M385.2 27.5h0M388 27.5h0M392.2 27.5h0M393.6 27.5h0M396.4 27.5h0M399.2 27.5h0M400.6 27.5h0M402 27.5h0M403.4 27.5h0M404.8 27.5h0M409 27.5h0M413.2 27.5h0M421.6 27.5h0M427.2 27.5h0M437 27.5h0M455.6 164.9h0M455.6 173.3h0M455.6 174.7h0M458.4 174.7h0M459.8 162.1h0M459.8 171.9h0M459.8 176.1h0M461.2 100.5h0M461.2 163.5h0M461.2 164.9h0M462.6 90.7h0M462.6 125.7h0M462.6 141.1h0M462.6 143.9h0M462.6 178.9h0M464 141.1h0M464 152.3h0M464 156.5h0M464 163.5h0M464 170.5h0M464 176.1h0M464 177.5h0M465.4 122.9h0M465.4 125.7h0M465.4 145.3h0M465.4 146.7h0M465.4 148.1h0M465.4 155.1h0M465.4 160.7h0M465.4 164.9h0M465.4 171.9h0M465.4 177.5h0M466.8 61.3h0M466.8 107.5h0M466.8 115.9h0M466.8 128.5h0M466.8 149.5h0M466.8 152.3h0M466.8 156.5h0M466.8 164.9h0M466.8 171.9h0M466.8 173.3h0M466.8 178.9h0M468.2 103.3h0M468.2 120.1h0M468.2 128.5h0M468.2 134.1h0M468.2 148.1h0M468.2 149.5h0M468.2 155.1h0M468.2 160.7h0M468.2 163.5h0M468.2 174.7h0M469.6 96.3h0M469.6 111.7h0M469.6 121.5h0M469.6 127.1h0M469.6 138.3h0M469.6 145.3h0M469.6 146.7h0M469.6 148.1h0M469.6 149.5h0M469.6 150.9h0M469.6 152.3h0M469.6 155.1h0M469.6 156.5h0M469.6 159.3h0M469.6 163.5h0M469.6 166.3h0M469.6 167.7h0M469.6 170.5h0M469.6 173.3h0M469.6 176.1h0M469.6 178.9h0M471 73.9h0M471 110.3h0M471 117.3h0M471 121.5h0M471 122.9h0M471 124.3h0M471 138.3h0M471 141.1h0M471 145.3h0M471 146.7h0M471 149.5h0M471 152.3h0M471 153.7h0M471 159.3h0M471 162.1h0M471 164.9h0M471 166.3h0M471 169.1h0M471 170.5h0M471 174.7h0M471 176.1h0M471 177.5h0M471 178.9h0M472.4 57.1h0M472.4 66.9h0M472.4 72.5h0M472.4 78.1h0M472.4 82.3h0M472.4 83.7h0M472.4 87.9h0M472.4 90.7h0M472.4 94.9h0M472.4 99.1h0M472.4 100.5h0M472.4 103.3h0M472.4 106.1h0M472.4 107.5h0M472.4 108.9h0M472.4 114.5h0M472.4 115.9h0M472.4 120.1h0M472.4 127.1h0M472.4 128.5h0M472.4 129.9h0M472.4 134.1h0M472.4 135.5h0M472.4 138.3h0M472.4 139.7h0M472.4 141.1h0M472.4 142.5h0M472.4 143.9h0M472.4 148.1h0M472.4 150.9h0M472.4 153.7h0M472.4 155.1h0M472.4 159.3h0M472.4 160.7h0M472.4 162.1h0M472.4 164.9h0M472.4 166.3h0M472.4 167.7h0M472.4 169.1h0M472.4 170.5h0M472.4 171.9h0M472.4 173.3h0M472.4 176.1h0M472.4 177.5h0M472.4 178.9h0M473.8 59.9h0M473.8 61.3h0M473.8 65.5h0M473.8 66.9h0M473.8 68.3h0M473.8 71.1h0M473.8 73.9h0M473.8 80.9h0M473.8 83.7h0M473.8 86.5h0M473.8 89.3h0M473.8 92.1h0M473.8 93.5h0M473.8 96.3h0M473.8 100.5h0M473.8 103.3h0M473.8 104.7h0M473.8 108.9h0M473.8 110.3h0M473.8 113.1h0M473.8 114.5h0M473.8 115.9h0M473.8 117.3h0M473.8 118.7h0M473.8 121.5h0M473.8 122.9h0M473.8 124.3h0M473.8 125.7h0M473.8 127.1h0M473.8 128.5h0M473.8 129.9h0M473.8 134.1h0M473.8 135.5h0M473.8 136.9h0M473.8 139.7h0M473.8 142.5h0M473.8 143.9h0M473.8 145.3h0M473.8 146.7h0M473.8 149.5h0M473.8 150.9h0M473.8 152.3h0M473.8 153.7h0M473.8 156.5h0M473.8 157.9h0M473.8 159.3h0M473.8 160.7h0M473.8 164.9h0M473.8 166.3h0M473.8 167.7h0M473.8 170.5h0M473.8 173.3h0M473.8 174.7h0M473.8 176.1h0M473.8 177.5h0M473.8 178.9h0M475.2 57.1h0M475.2 58.5h0M475.2 61.3h0M475.2 64.1h0M475.2 66.9h0M475.2 68.3h0M475.2 71.1h0M475.2 72.5h0M475.2 73.9h0M475.2 76.7h0M475.2 78.1h0M475.2 79.5h0M475.2 80.9h0M475.2 82.3h0M475.2 83.7h0M475.2 85.1h0M475.2 87.9h0M475.2 90.7h0M475.2 92.1h0M475.2 93.5h0M475.2 96.3h0M475.2 97.7h0M475.2 100.5h0M475.2 103.3h0M475.2 104.7h0M475.2 106.1h0M475.2 110.3h0M475.2 113.1h0M475.2 114.5h0M475.2 115.9h0M475.2 117.3h0M475.2 118.7h0M475.2 120.1h0M475.2 121.5h0M475.2 122.9h0M475.2 124.3h0M475.2 125.7h0M475.2 127.1h0M475.2 128.5h0M475.2 131.3h0M475.2 132.7h0M475.2 135.5h0M475.2 136.9h0M475.2 138.3h0M475.2 139.7h0M475.2 141.1h0M475.2 142.5h0M475.2 145.3h0M475.2 146.7h0M475.2 148.1h0M475.2 150.9h0M475.2 153.7h0M475.2 155.1h0M475.2 157.9h0M475.2 159.3h0M475.2 160.7h0M475.2 162.1h0M475.2 163.5h0M475.2 166.3h0M475.2 167.7h0M475.2 169.1h0M475.2 170.5h0M475.2 173.3h0M475.2 176.1h0M475.2 178.9h0M476.6 55.7h0M476.6 57.1h0M476.6 58.5h0M476.6 59.9h0M476.6 61.3h0M476.6 64.1h0M476.6 65.5h0M476.6 66.9h0M476.6 68.3h0M476.6 69.7h0M476.6 72.5h0M476.6 73.9h0M476.6 75.3h0M476.6 76.7h0M476.6 78.1h0M476.6 79.5h0M476.6 80.9h0M476.6 82.3h0M476.6 83.7h0M476.6 87.9h0M476.6 89.3h0M476.6 90.7h0M476.6 92.1h0M476.6 93.5h0M476.6 94.9h0M476.6 96.3h0M476.6 99.1h0M476.6 100.5h0M476.6 101.9h0M476.6 103.3h0M476.6 104.7h0M476.6 110.3h0M476.6 115.9h0M476.6 117.3h0M476.6 118.7h0M476.6 121.5h0M476.6 122.9h0M476.6 124.3h0M476.6 125.7h0M476.6 128.5h0M476.6 129.9h0M476.6 132.7h0M476.6 134.1h0M476.6 136.9h0M476.6 141.1h0M476.6 142.5h0M476.6 143.9h0M476.6 148.1h0M476.6 150.9h0M476.6 152.3h0M476.6 153.7h0M476.6 155.1h0M476.6 156.5h0M476.6 157.9h0M476.6 159.3h0M478 52.9h0M478 54.3h0M478 55.7h0M478 57.1h0M478 58.5h0M478 59.9h0M478 61.3h0M478 62.7h0M478 64.1h0M478 65.5h0M478 68.3h0M478 69.7h0M478 71.1h0M478 72.5h0M478 75.3h0M478 78.1h0M478 79.5h0M478 80.9h0M478 82.3h0M478 83.7h0M478 85.1h0M478 86.5h0M478 87.9h0M478 89.3h0M478 90.7h0M478 92.1h0M478 93.5h0M478 97.7h0M478 99.1h0M478 100.5h0M478 101.9h0M478 103.3h0M478 107.5h0M478 108.9h0M478 110.3h0M478 111.7h0M478 113.1h0M478 114.5h0M478 115.9h0M478 118.7h0M478 122.9h0M478 124.3h0M478 125.7h0M478 128.5h0M479.4 51.5h0M479.4 52.9h0M479.4 54.3h0M479.4 55.7h0M479.4 59.9h0M479.4 61.3h0M479.4 64.1h0M479.4 65.5h0M479.4 66.9h0M479.4 68.3h0M479.4 71.1h0M479.4 75.3h0M479.4 78.1h0M407.6 158.2h0M409 158.2h0M409 175h0M409 177.8h0M411.8 155.4h0M411.8 175h0M411.8 177.8h0M413.2 169.4h0M414.6 168h0M414.6 177.8h0M414.6 179.2h0M416 152.6h0M416 163.8h0M416 176.4h0M416 179.2h0M417.4 176.4h0M418.8 134.4h0M418.8 159.6h0M418.8 162.4h0M418.8 166.6h0M418.8 170.8h0M420.2 155.4h0M420.2 159.6h0M420.2 161h0M420.2 176.4h0M421.6 156.8h0M421.6 162.4h0M421.6 172.2h0M421.6 173.6h0M423 158.2h0M423 172.2h0M423 175h0M424.4 162.4h0M424.4 165.2h0M424.4 169.4h0M424.4 176.4h0M425.8 144.2h0M425.8 152.6h0M425.8 154h0M425.8 159.6h0M425.8 168h0M425.8 170.8h0M425.8 175h0M425.8 176.4h0M427.2 121.8h0M427.2 142.8h0M427.2 159.6h0M427.2 162.4h0M427.2 165.2h0M427.2 169.4h0M427.2 172.2h0M427.2 177.8h0M427.2 179.2h0M428.6 134.4h0M430 124.6h0M430 145.6h0M430 149.8h0M430 159.6h0M430 162.4h0M430 173.6h0M431.4 116.2h0M431.4 149.8h0M431.4 156.8h0M431.4 170.8h0M432.8 133h0M432.8 141.4h0M432.8 142.8h0M432.8 149.8h0M432.8 151.2h0M432.8 165.2h0M432.8 172.2h0M432.8 175h0M434.2 133h0M434.2 149.8h0M434.2 162.4h0M434.2 166.6h0M434.2 173.6h0M434.2 177.8h0M434.2 179.2h0M435.6 117.6h0M435.6 134.4h0M435.6 137.2h0M435.6 140h0M435.6 144.2h0M435.6 145.6h0M435.6 147h0M435.6 149.8h0M435.6 161h0M435.6 165.2h0M435.6 172.2h0M435.6 175h0M435.6 179.2h0M437 141.4h0M437 145.6h0M437 163.8h0M437 165.2h0M437 176.4h0M438.4 135.8h0M438.4 148.4h0M438.4 155.4h0M438.4 162.4h0M438.4 172.2h0M438.4 177.8h0M438.4 179.2h0M439.8 126h0M439.8 134.4h0M439.8 151.2h0M439.8 152.6h0M439.8 155.4h0M439.8 163.8h0M439.8 165.2h0M439.8 166.6h0M439.8 168h0M439.8 173.6h0M441.2 123.2h0M441.2 130.2h0M441.2 142.8h0M441.2 145.6h0M441.2 147h0M441.2 154h0M441.2 155.4h0M441.2 156.8h0M441.2 175h0M441.2 177.8h0M441.2 179.2h0M442.6 105h0M442.6 114.8h0M442.6 120.4h0M442.6 121.8h0M442.6 134.4h0M442.6 135.8h0M442.6 137.2h0M442.6 149.8h0M442.6 152.6h0M442.6 165.2h0M442.6 166.6h0M442.6 169.4h0M444 124.6h0M444 131.6h0M444 142.8h0M444 152.6h0M444 154h0M444 156.8h0M444 158.2h0M444 172.2h0M444 173.6h0M444 179.2h0M445.4 93.8h0M445.4 116.2h0M445.4 123.2h0M445.4 130.2h0M445.4 142.8h0M445.4 144.2h0M445.4 148.4h0M445.4 149.8h0M445.4 163.8h0M445.4 166.6h0M445.4 170.8h0M445.4 172.2h0M445.4 175h0M445.4 177.8h0M445.4 179.2h0M446.8 114.8h0M446.8 116.2h0M446.8 119h0M446.8 120.4h0M446.8 131.6h0M446.8 142.8h0M446.8 148.4h0M446.8 149.8h0M446.8 154h0M446.8 158.2h0M446.8 159.6h0M446.8 165.2h0M446.8 166.6h0M446.8 177.8h0M448.2 95.2h0M448.2 112h0M448.2 114.8h0M448.2 121.8h0M448.2 137.2h0M448.2 138.6h0M448.2 151.2h0M448.2 152.6h0M448.2 155.4h0M448.2 165.2h0M448.2 166.6h0M448.2 169.4h0M449.6 103.6h0M449.6 110.6h0M449.6 112h0M449.6 134.4h0M449.6 137.2h0M449.6 138.6h0M449.6 140h0M449.6 142.8h0M449.6 144.2h0M449.6 152.6h0M449.6 162.4h0M449.6 165.2h0M449.6 170.8h0M449.6 173.6h0M449.6 179.2h0M451 112h0M451 117.6h0M451 119h0M451 120.4h0M451 124.6h0M451 126h0M451 127.4h0M451 133h0M451 138.6h0M451 141.4h0M451 158.2h0M451 162.4h0M451 173.6h0M452.4 113.4h0M452.4 114.8h0M452.4 121.8h0M452.4 123.2h0M452.4 130.2h0M452.4 131.6h0M452.4 133h0M452.4 138.6h0M452.4 144.2h0M452.4 149.8h0M452.4 151.2h0M452.4 154h0M452.4 158.2h0M452.4 161h0M452.4 165.2h0M452.4 166.6h0M452.4 168h0M452.4 172.2h0M452.4 175h0M452.4 177.8h0M452.4 179.2h0M453.8 109.2h0M453.8 110.6h0M453.8 114.8h0M453.8 116.2h0M453.8 119h0M453.8 126h0M453.8 130.2h0M453.8 134.4h0M453.8 137.2h0M453.8 144.2h0M453.8 148.4h0M453.8 152.6h0M453.8 154h0M453.8 158.2h0M453.8 165.2h0M453.8 166.6h0M453.8 168h0M453.8 169.4h0M453.8 170.8h0M453.8 175h0M453.8 179.2h0M455.2 88.2h0M455.2 99.4h0M455.2 113.4h0M455.2 119h0M455.2 138.6h0M455.2 144.2h0M455.2 145.6h0M455.2 148.4h0M455.2 152.6h0M455.2 162.4h0M455.2 165.2h0M455.2 175h0M456.6 86.8h0M456.6 99.4h0M456.6 103.6h0M456.6 113.4h0M456.6 117.6h0M456.6 124.6h0M456.6 137.2h0M456.6 138.6h0M456.6 141.4h0M456.6 142.8h0M456.6 148.4h0M456.6 149.8h0M456.6 151.2h0M456.6 152.6h0M456.6 154h0M456.6 158.2h0M456.6 162.4h0M456.6 163.8h0M456.6 165.2h0M456.6 168h0M456.6 170.8h0M456.6 176.4h0M458 96.6h0M458 100.8h0M458 105h0M458 106.4h0M458 107.8h0M458 109.2h0M458 110.6h0M458 113.4h0M458 119h0M458 120.4h0M458 127.4h0M458 130.2h0M458 134.4h0M458 135.8h0M458 142.8h0M458 144.2h0M458 147h0M458 148.4h0M458 152.6h0M458 156.8h0M458 159.6h0M458 161h0M458 163.8h0M458 166.6h0M458 169.4h0M458 170.8h0M458 177.8h0M459.4 95.2h0M459.4 103.6h0M459.4 107.8h0M459.4 110.6h0M459.4 112h0M459.4 120.4h0M459.4 124.6h0M459.4 126h0M459.4 127.4h0M459.4 130.2h0M459.4 131.6h0M459.4 135.8h0M459.4 141.4h0M459.4 142.8h0M459.4 145.6h0M459.4 147h0M459.4 155.4h0M459.4 158.2h0M459.4 159.6h0M459.4 162.4h0M459.4 163.8h0M459.4 169.4h0M459.4 179.2h0M460.8 99.4h0M460.8 103.6h0M460.8 112h0M460.8 113.4h0M460.8 116.2h0M460.8 117.6h0M460.8 119h0M460.8 128.8h0M460.8 131.6h0M460.8 133h0M460.8 138.6h0M460.8 140h0M460.8 142.8h0M460.8 148.4h0M460.8 151.2h0M460.8 155.4h0M460.8 156.8h0M460.8 158.2h0M460.8 159.6h0M460.8 161h0M460.8 166.6h0M460.8 168h0M460.8 169.4h0M460.8 170.8h0M460.8 173.6h0M460.8 175h0M460.8 177.8h0M462.2 89.6h0M462.2 92.4h0M462.2 93.8h0M462.2 102.2h0M462.2 109.2h0M462.2 112h0M462.2 114.8h0M462.2 127.4h0M462.2 130.2h0M462.2 133h0M462.2 135.8h0M462.2 138.6h0M462.2 144.2h0M462.2 147h0M462.2 148.4h0M462.2 149.8h0M462.2 151.2h0M462.2 152.6h0M462.2 161h0M462.2 166.6h0M462.2 170.8h0M462.2 175h0M462.2 179.2h0M463.6 88.2h0M463.6 106.4h0M463.6 112h0M463.6 114.8h0M463.6 116.2h0M463.6 119h0M463.6 120.4h0M463.6 131.6h0M463.6 133h0M463.6 135.8h0M463.6 144.2h0M463.6 147h0M463.6 148.4h0M463.6 149.8h0M463.6 155.4h0M463.6 162.4h0M463.6 166.6h0M463.6 168h0M463.6 170.8h0M463.6 175h0M463.6 177.8h0M465 105h0M465 110.6h0M465 112h0M465 114.8h0M465 121.8h0M465 127.4h0M465 130.2h0M465 138.6h0M465 148.4h0M465 149.8h0M465 151.2h0M465 154h0M465 156.8h0M465 159.6h0M465 161h0M465 165.2h0M466.4 82.6h0M466.4 91h0M466.4 92.4h0M466.4 95.2h0M466.4 98h0M466.4 100.8h0M466.4 102.2h0M466.4 105h0M466.4 109.2h0M466.4 110.6h0M466.4 119h0M466.4 120.4h0M466.4 127.4h0M466.4 130.2h0M466.4 134.4h0M466.4 135.8h0M466.4 138.6h0M466.4 145.6h0M466.4 149.8h0M466.4 151.2h0M466.4 152.6h0M466.4 158.2h0M466.4 161h0M466.4 165.2h0M466.4 168h0M466.4 170.8h0M466.4 172.2h0M466.4 175h0M466.4 177.8h0M467.8 79.8h0M467.8 81.2h0M467.8 84h0M467.8 89.6h0M467.8 93.8h0M467.8 95.2h0M467.8 96.6h0M467.8 98h0M467.8 100.8h0M467.8 105h0M467.8 107.8h0M467.8 113.4h0M467.8 116.2h0M467.8 120.4h0M467.8 126h0M467.8 148.4h0M467.8 154h0M467.8 161h0M467.8 163.8h0M467.8 165.2h0M467.8 166.6h0M467.8 168h0M467.8 172.2h0M467.8 175h0M467.8 176.4h0M467.8 179.2h0M469.2 81.2h0M469.2 95.2h0M469.2 96.6h0M469.2 105h0M469.2 110.6h0M469.2 114.8h0M469.2 121.8h0M469.2 123.2h0M469.2 128.8h0M469.2 133h0M469.2 134.4h0M469.2 138.6h0M469.2 140h0M469.2 141.4h0M469.2 152.6h0M469.2 154h0M469.2 155.4h0M469.2 158.2h0M469.2 159.6h0M469.2 163.8h0M469.2 166.6h0M469.2 168h0M469.2 172.2h0M469.2 175h0M469.2 176.4h0M469.2 177.8h0M470.6 75.6h0M470.6 85.4h0M470.6 88.2h0M470.6 89.6h0M470.6 96.6h0M470.6 100.8h0M470.6 105h0M470.6 106.4h0M470.6 107.8h0M470.6 117.6h0M470.6 119h0M470.6 120.4h0M470.6 123.2h0M470.6 124.6h0M470.6 126h0M470.6 137.2h0M470.6 142.8h0M470.6 147h0M470.6 148.4h0M470.6 151.2h0M470.6 154h0M470.6 156.8h0M470.6 161h0M470.6 166.6h0M470.6 169.4h0M470.6 170.8h0M470.6 179.2h0M472 70h0M472 74.2h0M472 81.2h0M472 96.6h0M472 98h0M472 99.4h0M472 100.8h0M472 103.6h0M472 107.8h0M472 110.6h0M472 120.4h0M472 121.8h0M472 123.2h0M472 124.6h0M472 130.2h0M472 135.8h0M472 138.6h0M472 140h0M472 141.4h0M472 142.8h0M472 144.2h0M472 155.4h0M472 156.8h0M472 161h0M472 163.8h0M472 166.6h0M472 168h0M472 169.4h0M472 170.8h0M473.4 77h0M473.4 78.4h0M473.4 81.2h0M473.4 84h0M473.4 85.4h0M473.4 91h0M473.4 95.2h0M473.4 96.6h0M473.4 100.8h0M473.4 103.6h0M473.4 119h0M473.4 120.4h0M473.4 140h0M474.8 71.4h0M474.8 72.8h0M474.8 77h0M474.8 79.8h0M474.8 81.2h0M474.8 91h0M474.8 92.4h0M474.8 102.2h0M474.8 106.4h0M414 179h0M415.4 179h0M418.2 179h0M419.6 179h0M428 179h0M435 179h0M436.4 179h0M437.8 179h0M440.6 179h0M444.8 179h0M451.8 179h0M453.2 179h0M454.6 179h0M456 179h0M457.4 179h0M458.8 179h0M460.2 179h0M461.6 179h0M463 179h0M464.4 179h0M465.8 179h0M467.2 179h0M468.6 179h0M470 179h0M474.2 179h0M477 179h0" stroke="#000" stroke-width="1.7" stroke-linecap="square" fill="none"/><path d="M342 122.8h0M342 124.2h0M350.4 122.8h0M354.6 122.8h0M356 122.8h0M358.8 122.8h0M363 122.8h0M367.2 122.8h0M370 122.8h0M370 125.6h0M378.4 131.2h0M384 135.4h0M385.4 135.4h0M386.8 138.2h0M386.8 139.6h0M388.2 141h0M389.6 148h0M392.4 162h0M392.4 167.6h0M393.8 173.2h0M393.8 176h0M393.8 178.8h0" stroke="#fff" stroke-width="1.4" stroke-linecap="square" fill="none"/></g><path d="M330 106.3L358 108.3L389.5 114.6L471.2 13.4M403.5 181L397 124.5L493.6 21.3" stroke="#000" stroke-width="2.3" fill="none" stroke-linejoin="miter"/>
<g transform="translate(247.6,0)"><rect x="79.9" y="13" width="3" height="170" fill="#000"/><rect x="79.9" y="180" width="167.8" height="3" fill="#000"/><rect x="79.9" y="12.8" width="167.8" height="1.6" fill="#000"/><rect x="245.3" y="12.8" width="2.4" height="170" fill="#000"/><path d="M72.4 15.7H81M72.4 57.2H81M72.4 100H81M72.4 140.7H81M72.4 181.5H81M76.2 44.7H81M76.2 37.4H81M76.2 32.2H81M76.2 28.2H81M76.2 24.9H81M76.2 22.1H81M76.2 19.7H81M76.2 17.6H81M76.2 87.1H81M76.2 79.6H81M76.2 74.2H81M76.2 70.1H81M76.2 66.7H81M76.2 63.8H81M76.2 61.3H81M76.2 59.2H81M76.2 128.4H81M76.2 121.3H81M76.2 116.2H81M76.2 112.3H81M76.2 109H81M76.2 106.3H81M76.2 103.9H81M76.2 101.9H81M76.2 169.2H81M76.2 162H81M76.2 156.9H81M76.2 153H81M76.2 149.8H81M76.2 147H81M76.2 144.7H81M76.2 142.6H81M82.2 182V191M123.2 182V191M164.3 182V191M205.3 182V191M246.4 182V191M94.6 182V187M101.8 182V187M106.9 182V187M110.9 182V187M114.1 182V187M116.9 182V187M119.3 182V187M121.4 182V187M135.6 182V187M142.8 182V187M148 182V187M151.9 182V187M155.2 182V187M157.9 182V187M160.3 182V187M162.4 182V187M176.7 182V187M183.9 182V187M189 182V187M193 182V187M196.2 182V187M199 182V187M201.4 182V187M203.5 182V187M217.7 182V187M224.9 182V187M230.1 182V187M234 182V187M237.3 182V187M240 182V187M242.4 182V187M244.5 182V187" stroke="#000" stroke-width="1.8" fill="none"/><rect x="76.2" y="16.7" width="4.8" height="6.3" fill="#000"/><rect x="116" y="182" width="6.3" height="5" fill="#000"/><rect x="76.2" y="58.3" width="4.8" height="6.5" fill="#000"/><rect x="157" y="182" width="6.3" height="5" fill="#000"/><rect x="76.2" y="101" width="4.8" height="6.2" fill="#000"/><rect x="198.1" y="182" width="6.3" height="5" fill="#000"/><rect x="76.2" y="141.7" width="4.8" height="6.3" fill="#000"/><rect x="239.1" y="182" width="6.3" height="5" fill="#000"/><text x="69.4" y="210" font-size="16" class="b">10<tspan dx="-1" dy="-9.4" font-size="15.5">0</tspan></text><text x="110.5" y="210" font-size="16" class="b">10<tspan dx="-1" dy="-9.4" font-size="15.5">1</tspan></text><text x="151.5" y="210" font-size="16" class="b">10<tspan dx="-1" dy="-9.4" font-size="15.5">2</tspan></text><text x="192.5" y="210" font-size="16" class="b">10<tspan dx="-1" dy="-9.4" font-size="15.5">3</tspan></text><text x="233.6" y="210" font-size="16" class="b">10<tspan dx="-1" dy="-9.4" font-size="15.5">4</tspan></text><text transform="translate(66.2,29.5) rotate(-90)" font-size="16" class="b">10<tspan dx="3.2" dy="-9" font-size="15.5">4</tspan></text><text transform="translate(66.2,71) rotate(-90)" font-size="16" class="b">10<tspan dx="3.2" dy="-9" font-size="15.5">3</tspan></text><text transform="translate(66.2,113.8) rotate(-90)" font-size="16" class="b">10<tspan dx="3.2" dy="-9" font-size="15.5">2</tspan></text><text transform="translate(66.2,154.5) rotate(-90)" font-size="16" class="b">10<tspan dx="3.2" dy="-9" font-size="15.5">1</tspan></text><text transform="translate(66.2,195.3) rotate(-90)" font-size="16" class="b">10<tspan dx="3.2" dy="-9" font-size="15.5">0</tspan></text><text transform="translate(43,117) rotate(-90)" font-size="16.5" class="b">FL2</text><text x="147.8" y="226.2" font-size="16" class="b">FL1</text></g>
<rect x="80.8" y="273.3" width="425.9" height="272.6" fill="none" stroke="#000" stroke-width="1.6"/><path d="M80.8 364.8H506.7M80.8 455.8H506.7" stroke="#000" stroke-width="1.5"/><path d="M75.8 273.3H80.8M75.8 364.8H80.8M75.8 455.8H80.8M75.8 545.9H80.8M77.6 337.3H80.8M77.6 321.1H80.8M77.6 309.7H80.8M77.6 300.8H80.8M77.6 293.6H80.8M77.6 287.5H80.8M77.6 282.2H80.8M77.6 277.5H80.8M77.6 428.4H80.8M77.6 412.4H80.8M77.6 401H80.8M77.6 392.2H80.8M77.6 385H80.8M77.6 378.9H80.8M77.6 373.6H80.8M77.6 369H80.8M77.6 518.8H80.8M77.6 502.9H80.8M77.6 491.7H80.8M77.6 482.9H80.8M77.6 475.8H80.8M77.6 469.8H80.8M77.6 464.5H80.8M77.6 459.9H80.8M80.8 545.9V551.4M117.8 545.9V551.4M154.8 545.9V551.4M191.8 545.9V551.4M228.8 545.9V551.4M265.8 545.9V551.4M302.7 545.9V551.4M339.7 545.9V551.4M376.7 545.9V551.4M413.7 545.9V551.4M450.7 545.9V551.4M487.7 545.9V551.4" stroke="#000" stroke-width="1.4" fill="none"/><text x="67.4" y="278.8" text-anchor="end" font-size="13.8">100.0</text><text x="67.4" y="370.3" text-anchor="end" font-size="13.8">10.0</text><text x="67.4" y="461.3" text-anchor="end" font-size="13.8">1.0</text><text x="67.4" y="551.4" text-anchor="end" font-size="13.8">0.1</text><text x="80.8" y="574" text-anchor="middle" font-size="13.2">0</text><text x="117.8" y="574" text-anchor="middle" font-size="13.2">40</text><text x="154.8" y="574" text-anchor="middle" font-size="13.2">80</text><text x="191.8" y="574" text-anchor="middle" font-size="13.2">120</text><text x="228.8" y="574" text-anchor="middle" font-size="13.2">160</text><text x="265.8" y="574" text-anchor="middle" font-size="13.2">200</text><text x="302.7" y="574" text-anchor="middle" font-size="13.2">240</text><text x="339.7" y="574" text-anchor="middle" font-size="13.2">280</text><text x="376.7" y="574" text-anchor="middle" font-size="13.2">320</text><text x="413.7" y="574" text-anchor="middle" font-size="13.2">360</text><text x="450.7" y="574" text-anchor="middle" font-size="13.2">400</text><text x="487.7" y="574" text-anchor="middle" font-size="13.2">440</text><text x="255.4" y="265.2" font-size="16.5" textLength="57" lengthAdjust="spacingAndGlyphs">F99070</text><text transform="translate(14.4,489.6) rotate(-90)" font-size="14.8" style="letter-spacing:0.65px">% Positive by<tspan dx="2.5"> F</tspan><tspan dx="5">ACS</tspan></text><rect x="210" y="283" width="287.3" height="25.4" fill="#fff" stroke="#000" stroke-width="1.1"/><path d="M213.7 295H238.7M385.5 295H410" stroke="#000" stroke-width="2.8"/><ellipse cx="226.2" cy="295" rx="4.1" ry="3.7" fill="#000"/><rect x="393.9" y="291.6" width="7.6" height="6.8" fill="#000"/><text x="242" y="300.6" font-size="14.2" textLength="135.2" lengthAdjust="spacingAndGlyphs">Phoenix-GALV (YFP)</text><text x="413.5" y="300.6" font-size="14.2" textLength="80.5" lengthAdjust="spacingAndGlyphs">PG13 (GFP)</text><path d="M95.6 315.8L103.4 345L107.4 367.4L110 359L117 353.6L129 376L136.6 393.6L142 380L148 367L155 374.6L160.7 385L167 373.7L186.7 381.2L191.8 387.5L205.8 385.5L233 388L243.2 388L295.8 397.5L310.5 381.2L339.2 388.2L380 387.2L440.6 381.8L500.6 379.6" stroke="#000" stroke-width="2.8" fill="none" stroke-linejoin="round"/><path d="M95.6 315.8h0M103.4 345h0M107.4 367.4h0M110 359h0M117 353.6h0M129 376h0M136.6 393.6h0M142 380h0M148 367h0M155 374.6h0M160.7 385h0M167 373.7h0M186.7 381.2h0M191.8 387.5h0M205.8 385.5h0M233 388h0M243.2 388h0M295.8 397.5h0M310.5 381.2h0M339.2 388.2h0M380 387.2h0M440.6 381.8h0M500.6 379.6h0" stroke="#000" stroke-width="8" stroke-linecap="round" fill="none"/><path d="M95.6 352.4L103.4 380L107.4 398.4L110.4 389L117 381.6L129 403L136.6 429L142.4 413L148 409.6L155 409.6L160.7 413.8L167.3 409.3L186.3 415L192.5 409.3L205.8 413L233 418.2L243.2 416.8L296.2 422.5L310.7 413.8L339.2 413.8L380.5 429.4L440.6 414.6L500.6 404.7" stroke="#000" stroke-width="2.8" fill="none" stroke-linejoin="round"/><path d="M95.6 352.4h0M103.4 380h0M107.4 398.4h0M110.4 389h0M117 381.6h0M129 403h0M136.6 429h0M142.4 413h0M148 409.6h0M155 409.6h0M160.7 413.8h0M167.3 409.3h0M186.3 415h0M192.5 409.3h0M205.8 413h0M233 418.2h0M243.2 416.8h0M296.2 422.5h0M310.7 413.8h0M339.2 413.8h0M380.5 429.4h0M440.6 414.6h0M500.6 404.7h0" stroke="#000" stroke-width="7.6" stroke-linecap="square" fill="none"/><text x="-0.8" y="292.6" font-size="34" font-weight="bold">B</text>
<rect x="82.7" y="633.9" width="423.7" height="271" fill="none" stroke="#000" stroke-width="1.6"/><path d="M82.7 725.5H506.4M82.7 815.2H506.4" stroke="#000" stroke-width="1.5"/><path d="M77.7 633.9H82.7M77.7 725.5H82.7M77.7 815.2H82.7M77.7 904.9H82.7M79.5 697.9H82.7M79.5 681.8H82.7M79.5 670.4H82.7M79.5 661.5H82.7M79.5 654.2H82.7M79.5 648.1H82.7M79.5 642.8H82.7M79.5 638.1H82.7M79.5 788.2H82.7M79.5 772.4H82.7M79.5 761.2H82.7M79.5 752.5H82.7M79.5 745.4H82.7M79.5 739.4H82.7M79.5 734.2H82.7M79.5 729.6H82.7M79.5 877.9H82.7M79.5 862.1H82.7M79.5 850.9H82.7M79.5 842.2H82.7M79.5 835.1H82.7M79.5 829.1H82.7M79.5 823.9H82.7M79.5 819.3H82.7M82.7 904.9V910.4M119.5 904.9V910.4M156.3 904.9V910.4M193.2 904.9V910.4M230 904.9V910.4M266.8 904.9V910.4M303.6 904.9V910.4M340.4 904.9V910.4M377.3 904.9V910.4M414.1 904.9V910.4M450.9 904.9V910.4M487.7 904.9V910.4" stroke="#000" stroke-width="1.4" fill="none"/><text x="70.3" y="639.4" text-anchor="end" font-size="13.8">100.0</text><text x="70.3" y="731" text-anchor="end" font-size="13.8">10.0</text><text x="70.3" y="820.7" text-anchor="end" font-size="13.8">1.0</text><text x="70.3" y="910.4" text-anchor="end" font-size="13.8">0.1</text><text x="82.7" y="933.3" text-anchor="middle" font-size="13.2">0</text><text x="119.5" y="933.3" text-anchor="middle" font-size="13.2">40</text><text x="156.3" y="933.3" text-anchor="middle" font-size="13.2">80</text><text x="193.2" y="933.3" text-anchor="middle" font-size="13.2">120</text><text x="230" y="933.3" text-anchor="middle" font-size="13.2">160</text><text x="266.8" y="933.3" text-anchor="middle" font-size="13.2">200</text><text x="303.6" y="933.3" text-anchor="middle" font-size="13.2">240</text><text x="340.4" y="933.3" text-anchor="middle" font-size="13.2">280</text><text x="377.3" y="933.3" text-anchor="middle" font-size="13.2">320</text><text x="414.1" y="933.3" text-anchor="middle" font-size="13.2">360</text><text x="450.9" y="933.3" text-anchor="middle" font-size="13.2">400</text><text x="487.7" y="933.3" text-anchor="middle" font-size="13.2">440</text><text x="259.3" y="620.8" font-size="16.5" textLength="45.7" lengthAdjust="spacingAndGlyphs">00021</text><text transform="translate(23.9,849.6) rotate(-90)" font-size="17.4" style="letter-spacing:-0.57px">% Positive by<tspan dx="-2"> F</tspan><tspan dx="4">ACS</tspan></text><rect x="178.3" y="640.8" width="316.8" height="26.8" fill="#fff" stroke="#000" stroke-width="1.1"/><path d="M184.5 653.8H211.2M374.5 653.8H402" stroke="#000" stroke-width="2.8"/><ellipse cx="197.8" cy="653.8" rx="4.1" ry="3.7" fill="#000"/><rect x="384.4" y="650.4" width="7.6" height="6.8" fill="#000"/><text x="214" y="658.8" font-size="15.5" textLength="147.6" lengthAdjust="spacingAndGlyphs">Phoenix-GALV (YFP)</text><text x="404.5" y="658.8" font-size="15.5" textLength="89.5" lengthAdjust="spacingAndGlyphs">PG13 (GFP)</text><path d="M91 706L92 720.4L94.6 731L101.4 769.6L106.6 787.6L112 738L119.4 758.4L125.4 754L130.6 734.4L150.6 739L157 745.4L170.4 744L198.1 747.4L229.9 755.7L259 746L301.9 753.3L372.9 755.7L402.7 749.8L501 755.7" stroke="#000" stroke-width="2.8" fill="none" stroke-linejoin="round"/><path d="M91 706h0M92 720.4h0M94.6 731h0M101.4 769.6h0M106.6 787.6h0M112 738h0M119.4 758.4h0M125.4 754h0M130.6 734.4h0M150.6 739h0M157 745.4h0M170.4 744h0M198.1 747.4h0M229.9 755.7h0M259 746h0M301.9 753.3h0M372.9 755.7h0M402.7 749.8h0M501 755.7h0" stroke="#000" stroke-width="8" stroke-linecap="round" fill="none"/><path d="M91 757.6L92 772.4L94.6 779L101.4 822.4L107 852.4L112.4 785L120 805.6L125.6 799L131 777.6L151 782.4L157.4 777L170.4 778.3L198.1 779.2L229.9 773L259 776.5L301.9 775L372.9 773L402.7 769.5L501 764.7" stroke="#000" stroke-width="2.8" fill="none" stroke-linejoin="round"/><path d="M91 757.6h0M92 772.4h0M94.6 779h0M101.4 822.4h0M107 852.4h0M112.4 785h0M120 805.6h0M125.6 799h0M131 777.6h0M151 782.4h0M157.4 777h0M170.4 778.3h0M198.1 779.2h0M229.9 773h0M259 776.5h0M301.9 775h0M372.9 773h0M402.7 769.5h0M501 764.7h0" stroke="#000" stroke-width="7.6" stroke-linecap="square" fill="none"/><text x="0.2" y="653.2" font-size="34" font-weight="bold">C</text>
<rect x="82.8" y="1004.6" width="424.3" height="269.1" fill="none" stroke="#000" stroke-width="1.6"/><path d="M82.8 1093.9H507.1M82.8 1184H507.1" stroke="#000" stroke-width="1.5"/><path d="M77.8 1004.6H82.8M77.8 1093.9H82.8M77.8 1184H82.8M77.8 1273.7H82.8M79.6 1067H82.8M79.6 1051.3H82.8M79.6 1040.1H82.8M79.6 1031.5H82.8M79.6 1024.4H82.8M79.6 1018.4H82.8M79.6 1013.3H82.8M79.6 1008.7H82.8M79.6 1156.9H82.8M79.6 1141H82.8M79.6 1129.8H82.8M79.6 1121H82.8M79.6 1113.9H82.8M79.6 1107.9H82.8M79.6 1102.6H82.8M79.6 1098H82.8M79.6 1246.7H82.8M79.6 1230.9H82.8M79.6 1219.7H82.8M79.6 1211H82.8M79.6 1203.9H82.8M79.6 1197.9H82.8M79.6 1192.7H82.8M79.6 1188.1H82.8M82.8 1273.7V1279.2M167.7 1273.7V1279.2M252.5 1273.7V1279.2M337.4 1273.7V1279.2M422.2 1273.7V1279.2M507.1 1273.7V1279.2" stroke="#000" stroke-width="1.4" fill="none"/><text x="70.3" y="1010.1" text-anchor="end" font-size="13.8">100.0</text><text x="70.3" y="1099.4" text-anchor="end" font-size="13.8">10.0</text><text x="70.3" y="1189.5" text-anchor="end" font-size="13.8">1.0</text><text x="70.3" y="1279.2" text-anchor="end" font-size="13.8">0.1</text><text x="82.8" y="1299.4" text-anchor="middle" font-size="12.6">0</text><text x="167.7" y="1299.4" text-anchor="middle" font-size="12.6">20</text><text x="252.5" y="1299.4" text-anchor="middle" font-size="12.6">40</text><text x="337.4" y="1299.4" text-anchor="middle" font-size="12.6">60</text><text x="422.2" y="1299.4" text-anchor="middle" font-size="12.6">80</text><text x="507.1" y="1299.4" text-anchor="middle" font-size="12.6">100</text><text x="261.2" y="996.9" font-size="16.5" textLength="60" lengthAdjust="spacingAndGlyphs">A00066</text><text transform="translate(26.3,1216.5) rotate(-90)" font-size="16.9" style="letter-spacing:-0.28px">% Positive by<tspan dx="-1"> F</tspan><tspan dx="6">ACS</tspan></text><rect x="190" y="1016.9" width="303.7" height="23.5" fill="#fff" stroke="#000" stroke-width="1.1"/><path d="M196.2 1028.3H223.7M377 1028.3H405" stroke="#000" stroke-width="2.8"/><ellipse cx="209.9" cy="1028.3" rx="4.1" ry="3.7" fill="#000"/><rect x="387.2" y="1024.9" width="7.6" height="6.8" fill="#000"/><text x="226.5" y="1033.8" font-size="14.4" textLength="138.2" lengthAdjust="spacingAndGlyphs">Phoenix-GALV (YFP)</text><text x="407.8" y="1033.8" font-size="14.4" textLength="80.9" lengthAdjust="spacingAndGlyphs">PG13 (GFP)</text><path d="M132.5 1077.8L149.5 1052L158.7 1071.5L192.3 1109.8L221.6 1106.9L243 1099.6L277 1117.6L306.2 1125L337 1136.7L391.2 1132L421.2 1125.5L450.8 1133.2" stroke="#000" stroke-width="3" fill="none" stroke-linejoin="round"/><path d="M132.5 1077.8h0M149.5 1052h0M158.7 1071.5h0M192.3 1109.8h0M221.6 1106.9h0M243 1099.6h0M277 1117.6h0M306.2 1125h0M337 1136.7h0M391.2 1132h0M421.2 1125.5h0M450.8 1133.2h0" stroke="#000" stroke-width="8.6" stroke-linecap="round" fill="none"/><path d="M132.5 1106L149.5 1075L158.7 1089.8L192.6 1126.8L221.9 1119.8L243.2 1116.2L277.3 1142L306.6 1147L337 1155.5L391.6 1153L421.2 1140L451.2 1149.5" stroke="#000" stroke-width="3" fill="none" stroke-linejoin="round"/><path d="M132.5 1106h0M149.5 1075h0M158.7 1089.8h0M192.6 1126.8h0M221.9 1119.8h0M243.2 1116.2h0M277.3 1142h0M306.6 1147h0M337 1155.5h0M391.6 1153h0M421.2 1140h0M451.2 1149.5h0" stroke="#000" stroke-width="8.2" stroke-linecap="square" fill="none"/><text x="-1" y="1023.4" font-size="34" font-weight="bold">D</text>
<text x="186.3" y="1325.3" font-size="17.6" textLength="202" lengthAdjust="spacingAndGlyphs">Days after transplantation</text>
</svg></body></html>
